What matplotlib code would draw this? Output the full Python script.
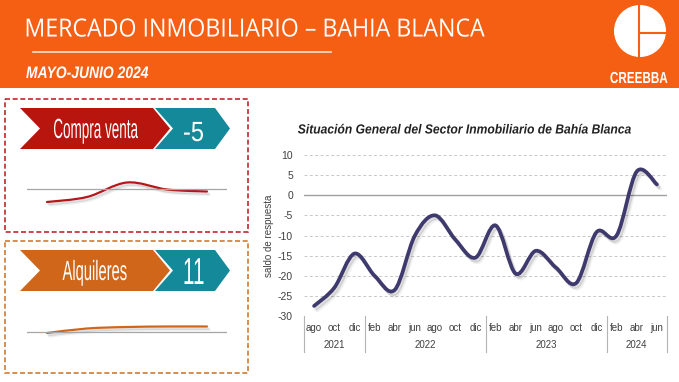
import numpy as np
import matplotlib
matplotlib.use("Agg")
import matplotlib.pyplot as plt
import matplotlib.patheffects as pe
from matplotlib import font_manager
from matplotlib.path import Path
from matplotlib.patches import PathPatch, Rectangle, Polygon, Circle
from matplotlib.transforms import Affine2D, blended_transform_factory

# ---- data ----
months = ["ago", "oct", "dic",
          "feb", "abr", "jun", "ago", "oct", "dic",
          "feb", "abr", "jun", "ago", "oct", "dic",
          "feb", "abr", "jun"]
years = ["2021", "2022", "2023", "2024"]
year_sizes = [3, 6, 6, 3]
situacion = [-27.5, -23, -14.5, -20, -23.5, -10, -5, -11, -15.5,
             -7.5, -19.5, -13.8, -18, -21.8, -9.2, -10, 5.9, 2.7]

spark_compra = [-26, -16, 13, -1, -5]
spark_alquiler = [-2, 7, 10, 11, 11]
indicador_compra = "-5"
indicador_alquiler = "11"

W, H = 679, 382
names = {f.name for f in font_manager.fontManager.ttflist}
NARROW = "Liberation Sans Narrow" if "Liberation Sans Narrow" in names else "Liberation Sans"
HEAD = "Open Sans" if "Open Sans" in names else "DejaVu Sans"

ORANGE = "#F55F14"
RED = "#B8150F"
TEAL = "#13899A"
ORANGE2 = "#D0661A"
PURPLE = "#3E3A6E"


class Squeeze(pe.AbstractPathEffect):
    """draws text squeezed horizontally to a given width in pixels"""

    def __init__(self, width):
        super().__init__()
        self.width = width

    def draw_path(self, renderer, gc, tpath, affine, rgbFace=None):
        ext = tpath.get_extents(affine)
        cx = (ext.x0 + ext.x1) / 2
        sx = self.width / max(ext.width, 1e-6)
        aff = affine + Affine2D().translate(-cx, 0).scale(sx, 1).translate(cx, 0)
        renderer.draw_path(gc, tpath, aff, rgbFace)


def smooth_path(x, y):
    pts = np.column_stack([x, y]).astype(float)
    n = len(pts)
    verts = [pts[0]]
    codes = [Path.MOVETO]
    for i in range(n - 1):
        p0 = pts[max(i - 1, 0)]
        p1 = pts[i]
        p2 = pts[i + 1]
        p3 = pts[min(i + 2, n - 1)]
        verts += [p1 + (p2 - p0) / 6, p2 - (p3 - p1) / 6, p2]
        codes += [Path.CURVE4] * 3
    return Path(verts, codes)


def px_rect(x0, y0, x1, y1):
    return [x0 / W, 1 - y1 / H, (x1 - x0) / W, (y1 - y0) / H]


def soft_shadow(dx, dy):
    return [pe.SimpleLineShadow(offset=(dx * 1.6, dy * 1.6), shadow_color="black", alpha=0.06),
            pe.SimpleLineShadow(offset=(dx, dy), shadow_color="black", alpha=0.12),
            pe.Normal()]


fig = plt.figure(figsize=(W / 100, H / 100), dpi=100)

# ---- background layer in pixel coordinates ----
bg = fig.add_axes([0, 0, 1, 1])
bg.set_xlim(0, W)
bg.set_ylim(H, 0)
bg.axis("off")

bg.add_patch(Rectangle((0, 0), W, 88, color=ORANGE, lw=0))
bg.text(255, 36.5, "MERCADO INMOBILIARIO \u2013 BAHIA BLANCA", family=HEAD,
        fontsize=18, color="white", ha="center", va="baseline",
        path_effects=[Squeeze(458)])
bg.plot([33, 331], [52, 52], color="#FBE2CF", lw=1.2)
bg.text(87, 78, "MAYO-JUNIO 2024", family=NARROW, fontsize=12, style="italic",
        weight="bold", color="white", ha="center", va="baseline",
        path_effects=[Squeeze(122)])

# logo
bg.add_patch(Circle((640, 31), 26, color="white", lw=0))
bg.plot([639, 639], [4, 58], color=ORANGE, lw=1.5, solid_capstyle="butt")
bg.plot([639, 667], [33, 33], color=ORANGE, lw=1.5, solid_capstyle="butt")
bg.text(639, 83, "CREEBBA", family=NARROW, fontsize=11.5, weight="bold",
        color="white", ha="center", va="baseline", path_effects=[Squeeze(57)])

# panels
for top, color, label, value, value_size, lab_w in [
        (99, RED, "Compra venta", indicador_compra, 20, 84),
        (241, ORANGE2, "Alquileres", indicador_alquiler, 27, 64)]:
    box_h = 133 if top == 99 else 132
    bg.add_patch(Rectangle((5, top), 243, box_h, fill=False,
                           edgecolor="#C0262B" if top == 99 else "#D37A2B",
                           lw=1.2, linestyle=(0, (3, 1.6))))
    t = top + 9
    b = t + 41
    m = (t + b) / 2
    bg.add_patch(Polygon([(20, t), (153, t), (170, m), (153, b), (20, b), (40, m)],
                         closed=True, color=color, lw=0))
    bg.add_patch(Polygon([(155, t), (215, t), (230, m), (215, b), (155, b), (173, m)],
                         closed=True, color=TEAL, lw=0))
    bg.text(95, m + 9.5, label, family=NARROW, fontsize=20, color="white",
            ha="center", va="baseline", path_effects=[Squeeze(lab_w)])
    bg.text(193.5, m + (12.5 if top == 99 else 13.5), value, family=NARROW,
            fontsize=value_size, color="white", ha="center", va="baseline",
            path_effects=[Squeeze(19)])

bg.text(465, 133.5, "Situación General del Sector Inmobiliario de Bahía Blanca",
        family="Liberation Sans", fontsize=9.5, weight="bold", style="italic",
        color="#222222", ha="center", va="baseline", path_effects=[Squeeze(333)])

# ---- sparklines ----
for (y0, y1), vals, color in [((169, 209), spark_compra, "#B5161B"),
                              ((312, 352), spark_alquiler, "#D0661A")]:
    sp = fig.add_axes(px_rect(27, y0, 227, y1))
    sp.set_xlim(-0.5, len(vals) - 0.5)
    sp.set_ylim(-40, 40)
    sp.axis("off")
    sp.axhline(0, color="#a6a6a6", lw=0.9)
    sp.add_patch(PathPatch(smooth_path(np.arange(len(vals)), vals), fill=False,
                           edgecolor=color, lw=1.6, capstyle="round",
                           path_effects=soft_shadow(1.2, -1.6)))

# ---- main chart ----
ax = fig.add_axes(px_rect(304, 155, 667, 316))
ax.patch.set_alpha(0)
x = np.arange(len(months))
ax.set_xlim(-0.5, len(months) - 0.5)
ax.set_ylim(-30, 10)
for s in ax.spines.values():
    s.set_visible(False)

yticks = list(range(-30, 11, 5))
for v in yticks:
    if v == 0:
        ax.axhline(v, color="#a0a0a0", lw=1.0, zorder=1)
    else:
        ax.axhline(v, color="#c8c8c8", lw=0.7, linestyle=(0, (3, 2.5)), zorder=1)
ax.set_yticks(yticks, [str(v) for v in yticks])
ax.set_xticks(x, months)
ax.tick_params(axis="y", length=0, pad=8, labelsize=7.5, labelcolor="#404040")
ax.tick_params(axis="x", length=0, pad=5, labelsize=7, labelcolor="#404040")
for lab in ax.get_xticklabels() + ax.get_yticklabels():
    lab.set_family("Liberation Sans")
ax.set_ylabel("saldo de respuesta", family="Liberation Sans", fontsize=7,
              color="#404040")
ax.yaxis.set_label_coords(-0.083, 0.5)

ax.add_patch(PathPatch(smooth_path(x, situacion), fill=False, edgecolor=PURPLE,
                       lw=2.7, capstyle="round", zorder=3,
                       path_effects=soft_shadow(1.5, -2)))

trans = blended_transform_factory(ax.transData, ax.transAxes)
bounds = np.concatenate([[0], np.cumsum(year_sizes)]) - 0.5
for b in bounds:
    ax.plot([b, b], [0, -36 / 161], transform=trans, clip_on=False,
            color="#b4b4b4", lw=0.8)
for yr, lo, hi in zip(years, bounds[:-1], bounds[1:]):
    ax.text((lo + hi) / 2, -29 / 161, yr, transform=trans, ha="center",
            va="center", fontsize=7, color="#404040", family="Liberation Sans")

fig.savefig("out.png", dpi=100)
